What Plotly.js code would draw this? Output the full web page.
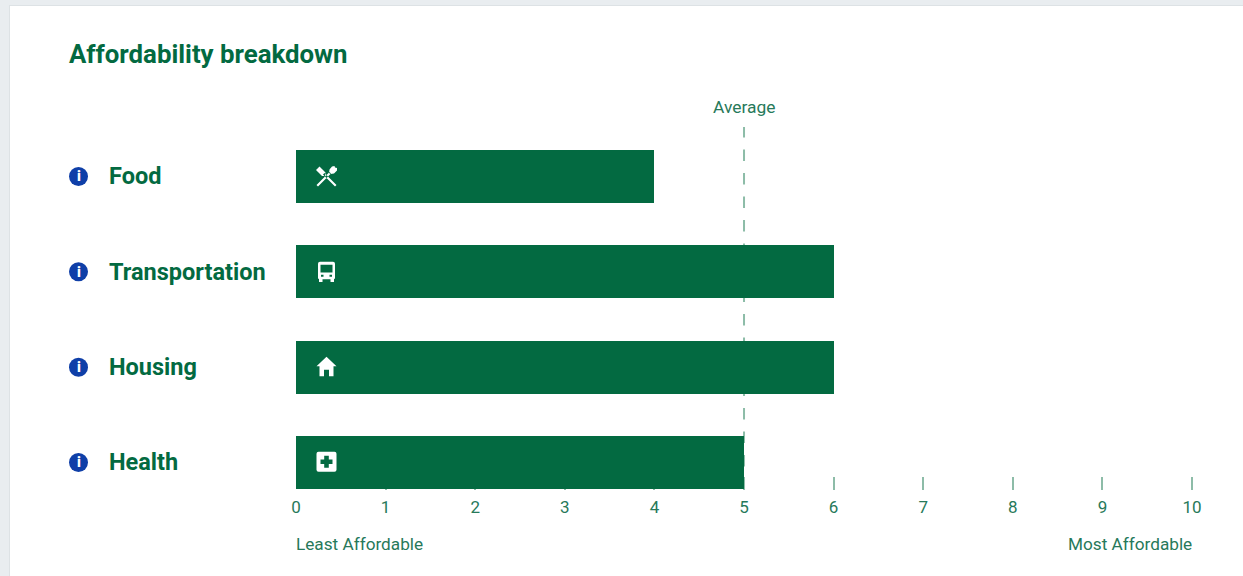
<!DOCTYPE html>
<html>
<head>
<meta charset="utf-8">
<script src="https://cdn.plot.ly/plotly-3.0.1.min.js"></script>
<style>
html,body{margin:0;padding:0;width:1243px;height:576px;overflow:hidden;background:#e9edf0}
#card{position:absolute;left:9px;top:5px;right:-5px;bottom:-5px;background:#fff;border:1px solid #dde2e5}
#chart{position:absolute;left:0;top:0;width:1243px;height:576px}
</style>
</head>
<body>
<div id="card"></div>
<div id="chart"></div>
<script>
const categories = ['Food', 'Transportation', 'Housing', 'Health'];
const scores = [4, 6, 6, 5];
const averageScore = 5;
const tickValues = [0, 1, 2, 3, 4, 5, 6, 7, 8, 9, 10];
const chartTitle = 'Affordability breakdown';
const averageLabel = 'Average';
const leastLabel = 'Least Affordable';
const mostLabel = 'Most Affordable';

const GREEN = '#036a41', SOFT = '#8dbca8', TEXT = '#27795a', BLUE = '#0f3fa8', FONT = 'Roboto, sans-serif';

const iconPaths = {
  Food: 'M -10 -8.5 L -8.5 -10 L 4.5 3 L 3 4.5 Z M 2.5 3.5 L 3 7 L 5.5 10 L 8 10.5 L 8.5 9 L 10.5 8.5 L 10.5 6 L 7.5 3 L 4 2.5 Z ' +
        'M 10 -8.5 L 8.5 -10 L -3.5 2 L -2 3.5 Z M -10.5 6.5 L -7 10 L -1 4 L -1.5 0.5 L -4.5 0.5 Z',
  Transportation: 'M -6.5 10 L 6.5 10 Q 8.5 10 8.5 8 L 8.5 -7 L 7.5 -7 L 7.5 -10.3 L 4 -10.3 L 4 -7.5 L -4 -7.5 L -4 -10.3 L -7.5 -10.3 L -7.5 -7 L -8.5 -7 L -8.5 8 Q -8.5 10 -6.5 10 Z ' +
        'M -6 7 L 6 7 L 6 -0.7 L -6 -0.7 Z M -5.5 -3 L -3 -3 L -3 -5 L -5.5 -5 Z M 3 -3 L 5.5 -3 L 5.5 -5 L 3 -5 Z',
  Housing: 'M 0 10.5 L 10 1 L 7 1 L 7 -9 L 2.5 -9 L 2.5 -2.5 L -2.5 -2.5 L -2.5 -9 L -7 -9 L -7 1 L -10 1 Z',
  Health: 'M -8 10.8 L 8 10.8 Q 10 10.8 10 8.8 L 10 -7.2 Q 10 -9.2 8 -9.2 L -8 -9.2 Q -10 -9.2 -10 -7.2 L -10 8.8 Q -10 10.8 -8 10.8 Z ' +
        'M -2.3 6.8 L 2.3 6.8 L 2.3 3.1 L 6 3.1 L 6 -1.5 L 2.3 -1.5 L 2.3 -5.2 L -2.3 -5.2 L -2.3 -1.5 L -6 -1.5 L -6 3.1 L -2.3 3.1 Z'
};

const shapes = [{
  type: 'line', layer: 'below', xref: 'x', yref: 'paper',
  x0: averageScore, x1: averageScore, y0: 0, y1: 1,
  line: {color: SOFT, width: 2, dash: '11.5px,12px'}
}];
const annotations = [
  {xref: 'x', yref: 'paper', x: averageScore, y: 1, yshift: 8, xanchor: 'center', yanchor: 'bottom', showarrow: false,
   text: averageLabel, font: {family: FONT, size: 17.4, color: TEXT}},
  {xref: 'x', yref: 'paper', x: 0, y: 0, xshift: -2, yshift: -42, xanchor: 'left', yanchor: 'top', showarrow: false,
   text: leastLabel, font: {family: FONT, size: 17.2, color: TEXT}},
  {xref: 'x', yref: 'paper', x: 10, y: 0, xshift: 2, yshift: -42, xanchor: 'right', yanchor: 'top', showarrow: false,
   text: mostLabel, font: {family: FONT, size: 17.2, color: TEXT}}
];
categories.forEach((c, i) => {
  const idx = categories.length - 1 - i;
  shapes.push({
    type: 'path', layer: 'above', xref: 'x', yref: 'y', xsizemode: 'pixel', ysizemode: 'pixel',
    xanchor: 0, yanchor: idx,
    path: iconPaths[c].replace(/(-?\d+\.?\d*) (-?\d+\.?\d*)/g, (m, a, b) => (parseFloat(a) + 30.5) + ' ' + b),
    fillcolor: '#ffffff', fillrule: 'evenodd', line: {width: 0}
  });
  shapes.push({
    type: 'circle', layer: 'above', xref: 'paper', yref: 'y', xsizemode: 'pixel', ysizemode: 'pixel',
    xanchor: 0, yanchor: idx, x0: -227, x1: -208, y0: -9.5, y1: 9.5,
    fillcolor: BLUE, line: {width: 0}
  });
  annotations.push({
    xref: 'x', yref: 'y', x: 0, y: idx, xshift: -217.5, xanchor: 'center', yanchor: 'middle', showarrow: false,
    text: 'i', font: {family: FONT, size: 14, color: '#ffffff', weight: 900}
  });
  annotations.push({
    xref: 'x', yref: 'y', x: 0, y: idx, xshift: -189, xanchor: 'left', yanchor: 'middle', showarrow: false,
    text: c, font: {family: FONT, size: 23.5, color: GREEN, weight: 700}
  });
});

Plotly.newPlot('chart', [{
  type: 'bar', orientation: 'h',
  x: scores, y: categories,
  width: 0.556,
  marker: {color: GREEN, line: {width: 0}},
  hoverinfo: 'x+y', showlegend: false
}], {
  width: 1243, height: 576,
  paper_bgcolor: 'rgba(0,0,0,0)', plot_bgcolor: 'rgba(0,0,0,0)',
  margin: {l: 296, r: 42.04, t: 127, b: 86, pad: 0},
  showlegend: false,
  title: {text: chartTitle, xref: 'container', yref: 'container', x: 69 / 1243, xanchor: 'left',
          y: 1 - 54 / 576, yanchor: 'middle', font: {family: FONT, size: 25.8, color: GREEN, weight: 700}},
  xaxis: {range: [0, 10.1], tickmode: 'array', tickvals: tickValues, ticktext: tickValues.map(String),
          ticks: 'inside', ticklen: 13, tickwidth: 2, tickcolor: SOFT, layer: 'below traces',
          showgrid: false, zeroline: false, showline: false, ticklabelstandoff: 5,
          tickfont: {family: FONT, size: 17, color: TEXT}},
  yaxis: {type: 'category', categoryorder: 'array', categoryarray: categories.slice().reverse(),
          range: [-0.2885, 3.519], showticklabels: false, ticks: '', showgrid: false, zeroline: false, showline: false},
  shapes, annotations, bargap: 0
}, {displayModeBar: false, staticPlot: true});
</script>
</body>
</html>
